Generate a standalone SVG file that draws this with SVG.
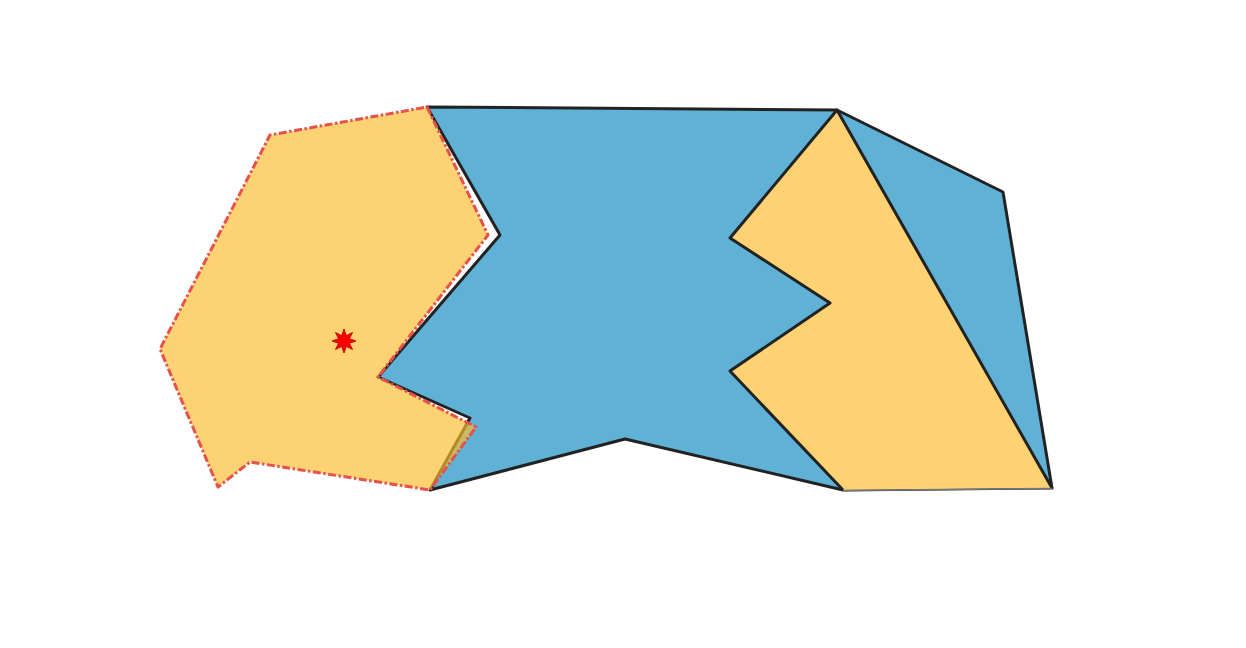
<svg xmlns="http://www.w3.org/2000/svg" width="1246" height="648" viewBox="0 0 1246 648">
<style>
.blue{fill:#5FB2D6;stroke:#222;stroke-width:3;stroke-linejoin:round}
.yl{fill:#FCBC2D;fill-opacity:0.67;stroke:#E8504A;stroke-width:3;stroke-dasharray:8 2.5 2.5 2.5;stroke-linejoin:round}
.yr{fill:#FED272;stroke:none}
.edge{fill:none;stroke:#222;stroke-width:3;stroke-linejoin:round}
.star{fill:#FF0000;stroke:#B00000;stroke-width:0.8}
</style>
<rect width="1246" height="648" fill="#fff"/>
<g id="blue-region">
<polygon class="blue" points="427,107 837,110 1003,192 1052,488 843,490 625,439 430,490 470,418 378,377 500,235"/>
</g>
<g id="right-region">
<polygon class="yr" points="837,110 730,238 830,303 730,371 843,490 1052,488"/>
<polyline class="edge" points="1052,488 837,110 730,238 830,303 730,371 843,490"/>
<line x1="843" y1="490.5" x2="1052" y2="488.5" stroke="#777" stroke-width="1.5"/>
</g>
<g id="left-region">
<polygon class="yl" points="427,107 488,235 378,377 476,427 430,490 250,462 218,487 160,349 270,135"/>
</g>
<g id="marker">
<polygon class="star" points="344,329 346.3,335.5 352.5,332.5 349.5,338.7 356,341 349.5,343.3 352.5,349.5 346.3,346.5 344,353 341.7,346.5 335.5,349.5 338.5,343.3 332,341 338.5,338.7 335.5,332.5 341.7,335.5"/>
</g>
</svg>
